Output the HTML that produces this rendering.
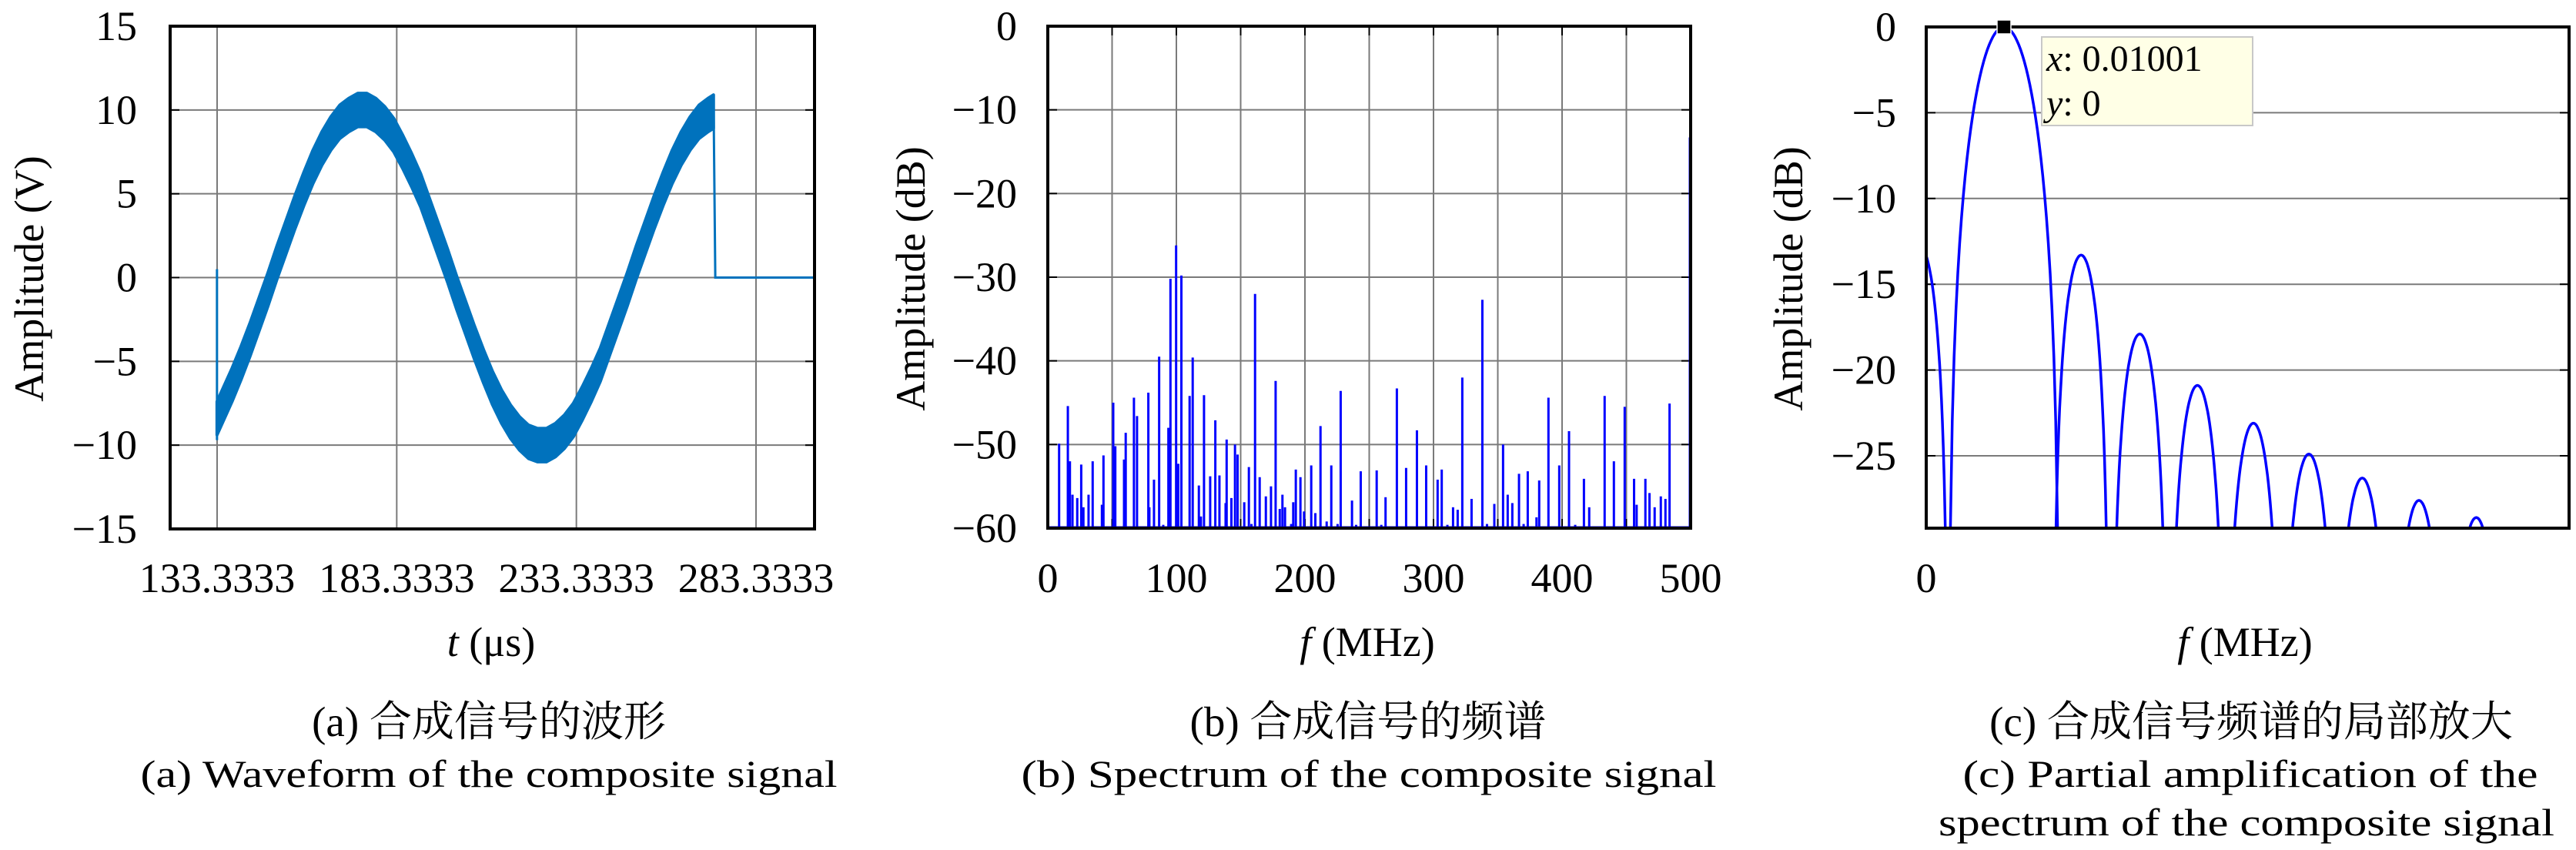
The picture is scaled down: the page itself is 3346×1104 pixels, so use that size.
<!DOCTYPE html>
<html><head><meta charset="utf-8">
<style>
html,body{margin:0;padding:0;background:#fff;}
svg{display:block;}
text{font-family:"Liberation Serif","Noto Serif CJK SC",serif;fill:#000;}
</style></head>
<body>
<svg id="fig" xmlns="http://www.w3.org/2000/svg" width="3346" height="1104" viewBox="0 0 3346 1104">
<defs>
<clipPath id="clipA"><rect x="221" y="34" width="837" height="653"/></clipPath>
<clipPath id="clipB"><rect x="1361" y="34" width="835" height="652"/></clipPath>
<clipPath id="clipC"><rect x="2502" y="35" width="835" height="651"/></clipPath>
</defs>
<g id="pa"></g>
<g id="pb"></g>
<g id="pc"></g>
<g font-size="50">
<text x="635" y="956" text-anchor="middle" font-size="55">(a) 合成信号的波形</text>
<text x="635" y="1022" text-anchor="middle" textLength="905" lengthAdjust="spacingAndGlyphs">(a) Waveform of the composite signal</text>
<text x="1777" y="956" text-anchor="middle" font-size="55">(b) 合成信号的频谱</text>
<text x="1778" y="1022" text-anchor="middle" textLength="903" lengthAdjust="spacingAndGlyphs">(b) Spectrum of the composite signal</text>
<text x="2924" y="956" text-anchor="middle" font-size="55">(c) 合成信号频谱的局部放大</text>
<text x="2923" y="1022" text-anchor="middle" textLength="747" lengthAdjust="spacingAndGlyphs">(c) Partial amplification of the</text>
<text x="2918" y="1085" text-anchor="middle" textLength="800" lengthAdjust="spacingAndGlyphs">spectrum of the composite signal</text>
</g>
</svg>
<script>
// ---- Panel A data ----
const waveTimes = [133.3,137.5,140,142.5,145,147.5,150,152.5,155,157.5,160,162.5,165,167.5,170,172.5,175,177.5,180,182.5,185,187.5,190,192.5,195,197.5,200,202.5,205,207.5,210,212.5,215,217.5,220,222.5,225,227.5,230,232.5,235,237.5,240,242.5,245,247.5,250,252.5,255,257.5,260,262.5,265,267.5,270,271.5];
const waveCenter = [-8.4,-6.4,-5.1,-3.7,-2.2,-0.7,0.9,2.4,3.9,5.3,6.6,7.7,8.6,9.3,9.7,10.0,10.0,9.7,9.2,8.5,7.5,6.4,5.2,3.7,2.2,0.7,-0.9,-2.4,-3.9,-5.3,-6.6,-7.7,-8.6,-9.3,-9.8,-10.0,-10.0,-9.7,-9.2,-8.5,-7.5,-6.4,-5.2,-3.7,-2.2,-0.7,0.9,2.4,3.9,5.3,6.6,7.7,8.6,9.3,9.7,9.9];
const waveHalfBand = waveTimes.map(()=>1);
const waveEnd = [271.5, 303.6];
const aXTicks = [133.3333,183.3333,233.3333,283.3333];
const aXTickLabels = ["133.3333","183.3333","233.3333","283.3333"];
const aYTicks = [15,10,5,0,-5,-10,-15];
// ---- Panel B data ----
const specFreq = [0,8.8,15.6,17.2,19.2,22.9,26,27.7,31.7,34.9,42.1,43.3,50.9,52.5,59.3,60.6,67,69.4,78.2,79,82.6,86.6,89.8,93.8,95.4,99.8,101.5,103.9,110.3,112.7,117.5,119.1,121.5,126.3,130.3,133.5,138.3,139.1,142.8,145.6,147.6,152.8,156.4,158.4,161.2,164.8,169.6,173.6,177.2,180.4,182.5,184.5,189.3,190.9,192.9,196.5,199.3,204.9,208.1,212.1,216.9,220.5,225.4,227.8,236.6,239.8,243.4,255.8,259.4,262.7,271.5,278.7,287.1,294.3,303.2,306.4,310.8,315.2,318.8,322.4,329.6,338,341.6,347.3,354.1,357.7,361.3,366.5,370.1,373.3,380.1,382.2,389.4,397.8,405.4,410.2,417,421.1,433.1,440.3,448.7,456,458,464.8,468,472,476.8,480.4,483.6,499.4];
const specDb = [0,-49.9,-45.4,-52,-56,-56.4,-52.4,-57.5,-56,-52,-57.2,-51.3,-45,-50.2,-51.8,-48.6,-44.4,-46.6,-43.8,-57.5,-54.2,-39.5,-59.6,-48,-30.2,-26.2,-52.3,-29.8,-44.2,-39.6,-54.9,-58.6,-44.1,-53.8,-47.1,-53.7,-57,-49.4,-56.4,-50,-51.2,-56.9,-52.7,-59.5,-32,-53.9,-56.2,-55,-42.4,-57.7,-56,-57.5,-59.5,-56.9,-53,-53.9,-58,-52.5,-58.2,-47.8,-59.2,-52.5,-59.5,-43.6,-56.7,-59.6,-53.2,-53.1,-59.6,-56.3,-43.3,-52.8,-48.3,-52.5,-54.2,-53,-59.6,-57.5,-57.8,-42,-56.5,-32.7,-59.5,-57.1,-50,-56,-57,-53.5,-59.5,-53.2,-58.7,-54.3,-44.4,-52.5,-48.4,-59.6,-54.1,-57.5,-44.2,-52,-45.5,-54.1,-57.2,-54.1,-55.8,-57.5,-56.2,-56.5,-45.1,-13.3];
const bXTicks = [0,100,200,300,400,500];
const bYTicks = [0,-10,-20,-30,-40,-50,-60];
// ---- Panel C data ----
const mainLobeCenter = [0.01001];
const mainLobePeak = [0];
const sideLobeCenters = [-0.0008,0.01994,0.02749,0.03491,0.04212,0.04926,0.05613,0.06343,0.07081];
const sideLobePeaks = [-12.8,-13.3,-17.9,-20.9,-23.1,-24.9,-26.3,-27.6,-28.6];
const cYTicks = [0,-5,-10,-15,-20,-25];
const tipLabels = ["0.01001","0"];

const NS="http://www.w3.org/2000/svg";
function mk(parent,tag,attrs){const e=document.createElementNS(NS,tag);for(const k in attrs)e.setAttribute(k,attrs[k]);parent.appendChild(e);return e;}

const ax=t=>282+(t-133.3333)*(233.33/50), ay=v=>360.5-v*(653/30);
const bx=f=>1361+f*(835/500), by=d=>34-d*(652/60);
const cx=f=>2502+f*10090, cy=d=>35-d*(651/29.22);

// ===== Panel A =====
const pa=document.getElementById('pa');
aYTicks.forEach(v=>{ if(v!==15&&v!==-15){const g=mk(pa,'line',{x1:221,x2:1058,y1:ay(v),y2:ay(v),stroke:'#7a7a7a','stroke-width':2});

}
 const tl=mk(pa,'text',{x:178,y:ay(v)+18,'text-anchor':'end','font-size':54});tl.textContent=(v<0?'−':'')+Math.abs(v);
 
 
 mk(pa,'line',{x1:221,x2:233,y1:ay(v),y2:ay(v),stroke:'#000','stroke-width':2});
 mk(pa,'line',{x1:1046,x2:1058,y1:ay(v),y2:ay(v),stroke:'#000','stroke-width':2});
});
aXTicks.forEach((t,i)=>{const g=mk(pa,'line',{x1:ax(t),x2:ax(t),y1:34,y2:687,stroke:'#7a7a7a','stroke-width':2});
 
 
 const tl=mk(pa,'text',{x:ax(t),y:769,'text-anchor':'middle','font-size':54});tl.textContent=aXTickLabels[i];
 
 
});
{
 let up=[],lo=[];
 waveTimes.forEach((t,i)=>{up.push(ax(t)+','+ay(waveCenter[i]+waveHalfBand[i]));lo.unshift(ax(t)+','+ay(waveCenter[i]-waveHalfBand[i]));});
 const band=mk(pa,'polygon',{points:up.concat(lo).join(' '),fill:'#0072BD',stroke:'#0072BD','stroke-width':4,'stroke-linejoin':'round','clip-path':'url(#clipA)'});
 
 
 const n=waveTimes.length-1;
 const edges=mk(pa,'polyline',{points:`${ax(waveTimes[0])},${ay(0.5)} ${ax(waveTimes[0])},${ay(waveCenter[0]-waveHalfBand[0]-0.3)}`,fill:'none',stroke:'#0072BD','stroke-width':3});
 
 
 const tail=mk(pa,'polyline',{points:`${ax(waveEnd[0])},${ay(waveCenter[n]+waveHalfBand[n])} ${ax(waveEnd[0]+0.5)},${ay(0)} ${ax(waveEnd[1])},${ay(0)}`,fill:'none',stroke:'#0072BD','stroke-width':3,'clip-path':'url(#clipA)'});
 
 
}
{const b=mk(pa,'rect',{x:221,y:34,width:837,height:653,fill:'none',stroke:'#000','stroke-width':4});


const yl=mk(pa,'text',{x:0,y:0,'text-anchor':'middle','font-size':54,transform:'translate(56,362) rotate(-90)'});yl.textContent='Amplitude (V)';


const xl=mk(pa,'text',{x:638,y:852,'text-anchor':'middle','font-size':54});xl.innerHTML='<tspan font-style="italic">t</tspan> (μs)';

}

// ===== Panel B =====
const pb=document.getElementById('pb');
for(let f=50;f<500;f+=50){const g=mk(pb,'line',{x1:bx(f),x2:bx(f),y1:34,y2:686,stroke:'#7a7a7a','stroke-width':2});
 
 
 mk(pb,'line',{x1:bx(f),x2:bx(f),y1:34,y2:46,stroke:'#000','stroke-width':2});
 mk(pb,'line',{x1:bx(f),x2:bx(f),y1:674,y2:686,stroke:'#000','stroke-width':2});}
bYTicks.forEach(v=>{ if(v!==0&&v!==-60){const g=mk(pb,'line',{x1:1361,x2:2196,y1:by(v),y2:by(v),stroke:'#7a7a7a','stroke-width':2});
 
 }
 const tl=mk(pb,'text',{x:1321,y:by(v)+18,'text-anchor':'end','font-size':54});tl.textContent=(v<0?'−':'')+Math.abs(v);
 
 
 mk(pb,'line',{x1:1361,x2:1373,y1:by(v),y2:by(v),stroke:'#000','stroke-width':2});
 mk(pb,'line',{x1:2184,x2:2196,y1:by(v),y2:by(v),stroke:'#000','stroke-width':2});
});
bXTicks.forEach(f=>{const tl=mk(pb,'text',{x:bx(f),y:769,'text-anchor':'middle','font-size':54});tl.textContent=f;
 
 });
specFreq.forEach((f,i)=>{const s=mk(pb,'line',{x1:bx(f),x2:bx(f),y1:by(-60),y2:by(specDb[i]),stroke:'#0000FF','stroke-width':3,'clip-path':'url(#clipB)'});
 
 });
{const base=mk(pb,'line',{x1:1361,x2:2196,y1:by(-60)-1,y2:by(-60)-1,stroke:'#0000FF','stroke-width':3});


const b=mk(pb,'rect',{x:1361,y:34,width:835,height:652,fill:'none',stroke:'#000','stroke-width':4});


const yl=mk(pb,'text',{x:0,y:0,'text-anchor':'middle','font-size':54,transform:'translate(1201,362) rotate(-90)'});yl.textContent='Amplitude (dB)';


const xl=mk(pb,'text',{x:1776,y:852,'text-anchor':'middle','font-size':54});xl.innerHTML='<tspan font-style="italic">f</tspan> (MHz)';

}

// ===== Panel C =====
const pc=document.getElementById('pc');
cYTicks.forEach(v=>{ if(v!==0){const g=mk(pc,'line',{x1:2502,x2:3337,y1:cy(v),y2:cy(v),stroke:'#7a7a7a','stroke-width':2});
 
 }
 const tl=mk(pc,'text',{x:2463,y:cy(v)+18,'text-anchor':'end','font-size':54});tl.textContent=(v<0?'−':'')+Math.abs(v);
 
 
 mk(pc,'line',{x1:2502,x2:2514,y1:cy(v),y2:cy(v),stroke:'#000','stroke-width':2});
 mk(pc,'line',{x1:3325,x2:3337,y1:cy(v),y2:cy(v),stroke:'#000','stroke-width':2});
});
{const tl=mk(pc,'text',{x:2502,y:769,'text-anchor':'middle','font-size':54});tl.textContent='0';

}
const HW=0.0036, MHW=0.00714, YMIN=-29.22;
function lobePath(center,peak,half,main){
 let pts=[];const N=60;
 for(let k=1;k<N;k++){
  const u=k/N; const f=center-half+2*half*u;
  let d;
  if(main){const v=(f-center)/half;const a=Math.PI*v;d=peak+20*Math.log10(Math.abs(v===0?1:Math.sin(a)/a));}
  else d=peak+20*Math.log10(Math.sin(Math.PI*u));
  if(d<YMIN-2)d=YMIN-2;
  pts.push(cx(f).toFixed(1)+','+cy(d).toFixed(1));
 }
 pts.unshift(cx(center-half).toFixed(1)+','+cy(YMIN-2).toFixed(1));
 pts.push(cx(center+half).toFixed(1)+','+cy(YMIN-2).toFixed(1));
 return pts.join(' ');
}
{const m=mk(pc,'polyline',{points:lobePath(mainLobeCenter[0],mainLobePeak[0],MHW,true),fill:'none',stroke:'#0000FF','stroke-width':3.5,'clip-path':'url(#clipC)'});

}
sideLobeCenters.forEach((c,i)=>{const s=mk(pc,'polyline',{points:lobePath(c,sideLobePeaks[i],HW,false),fill:'none',stroke:'#0000FF','stroke-width':3.5,'clip-path':'url(#clipC)'});
 
 });
{const b=mk(pc,'rect',{x:2502,y:35,width:835,height:651,fill:'none',stroke:'#000','stroke-width':4});


const tip=mk(pc,'rect',{x:2652,y:48,width:274,height:115,fill:'#FFFFE6',stroke:'#c8c8c8','stroke-width':2});


const t1=mk(pc,'text',{x:2658,y:92,'font-size':48});t1.innerHTML='<tspan font-style="italic">x</tspan>: '+tipLabels[0];


const t2=mk(pc,'text',{x:2658,y:150,'font-size':48});t2.innerHTML='<tspan font-style="italic">y</tspan>: '+tipLabels[1];


const mkr=mk(pc,'rect',{x:cx(mainLobeCenter[0])-9,y:cy(mainLobePeak[0])-9,width:18,height:18,fill:'#000',stroke:'#fff','stroke-width':1.5});


const yl=mk(pc,'text',{x:0,y:0,'text-anchor':'middle','font-size':54,transform:'translate(2341,362) rotate(-90)'});yl.textContent='Amplitude (dB)';


const xl=mk(pc,'text',{x:2916,y:852,'text-anchor':'middle','font-size':54});xl.innerHTML='<tspan font-style="italic">f</tspan> (MHz)';

}
</script>
</body></html>
